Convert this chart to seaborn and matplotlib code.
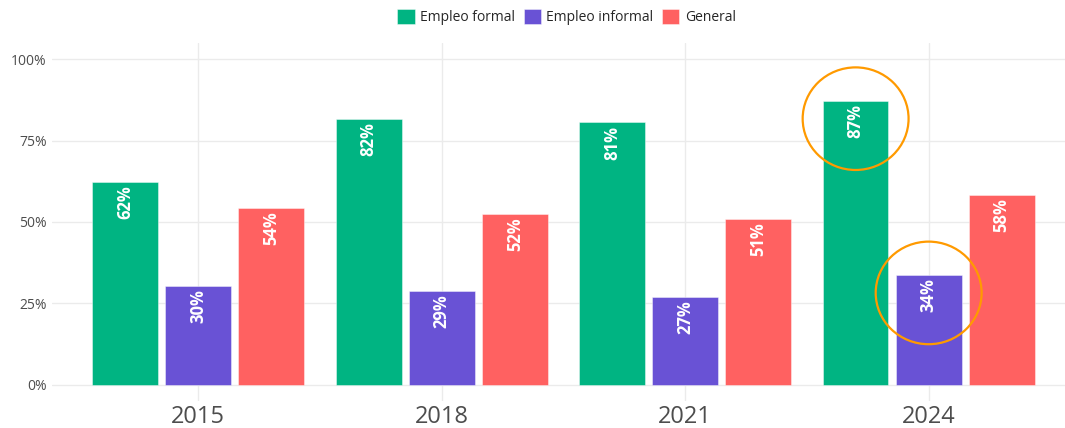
import numpy as np
import pandas as pd
import seaborn as sns
import matplotlib.pyplot as plt
from matplotlib.patches import Ellipse

years = ["2015", "2018", "2021", "2024"]
series = ["Empleo formal", "Empleo informal", "General"]
formal = [62.3, 81.6, 80.6, 87.2]
informal = [30.4, 28.9, 27.0, 33.7]
general = [54.3, 52.5, 50.9, 58.3]
colors = ["#00B482", "#6952D5", "#FF6161"]
# bars to highlight: (year, series)
highlight = [("2024", "Empleo formal"), ("2024", "Empleo informal")]

df = pd.DataFrame({
    "year": years * 3,
    "serie": [s for s in series for _ in years],
    "value": formal + informal + general,
})

sns.set_style("whitegrid", {"grid.color": "#EBEBEB", "axes.edgecolor": "white"})
plt.rcParams["font.family"] = ["Open Sans", "DejaVu Sans"]

fig = plt.figure(figsize=(10.65, 4.28), dpi=100)
ax = fig.add_axes([0.049, 0.063, 0.951, 0.837])

sns.barplot(data=df, x="year", y="value", hue="serie", hue_order=series,
            palette=colors, saturation=1, width=0.9, gap=0.1,
            edgecolor="#FFFFFF80", linewidth=0.6, ax=ax, legend=True)

# labels inside bars, rotated
for cont, name in zip(ax.containers, series):
    for bar, yr in zip(cont, years):
        h = bar.get_height()
        cx = bar.get_x() + bar.get_width() / 2
        ax.text(cx, h - 1.0, f"{h:.0f}%", rotation=90, ha="center", va="top",
                color="white", fontsize=12, fontweight="bold")
        if (yr, name) in highlight:
            ax.add_patch(Ellipse((cx, h - 5.5), 0.435, 31.5, fill=False,
                                 edgecolor="#FF9A00", linewidth=1.6, zorder=5))

ax.set_ylim(-5, 105)
ax.set_xlim(-0.6, 3.56)
ax.set_yticks([0, 25, 50, 75, 100])
ax.set_yticklabels(["0%", "25%", "50%", "75%", "100%"])
ax.tick_params(axis="y", labelsize=10, labelcolor="#4D4D4D", length=0, pad=4)
ax.tick_params(axis="x", labelsize=17, labelcolor="#4D4D4D", length=0, pad=3)
ax.set_xlabel("")
ax.set_ylabel("")
ax.grid(True, color="#EBEBEB", linewidth=1)
for s in ax.spines.values():
    s.set_visible(False)

handles, labels = ax.get_legend_handles_labels()
ax.legend_.remove()
fig.legend(handles, labels, loc="center", bbox_to_anchor=(0.532, 0.96), ncol=3,
           frameon=False, fontsize=10, handlelength=1.25, handleheight=1.25,
           handletextpad=0.4, columnspacing=0.6)

fig.savefig("out.png", dpi=100)
